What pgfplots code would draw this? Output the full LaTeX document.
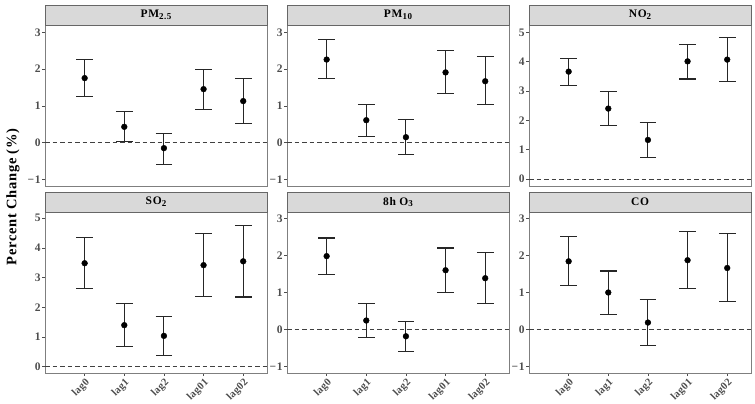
\documentclass[border=0pt]{standalone}
\usepackage{pgfplots}
\pgfplotsset{compat=1.18}
\usepackage{pgfplotstable}
\usepackage{fontspec}
\setmainfont{Liberation Serif}
\newfontfamily\lsfont[LetterSpace=6]{Liberation Serif}
\newfontfamily\xfont[LetterSpace=3]{Liberation Serif}
\newfontfamily\labfont[LetterSpace=5]{Liberation Serif}
\definecolor{tickcol}{HTML}{4D4D4D}
\definecolor{bordercol}{HTML}{7F7F7F}
\definecolor{stripfill}{HTML}{D9D9D9}
\definecolor{stripborder}{HTML}{666666}
\newcommand{\sub}[1]{\raisebox{-0.35ex}{\fontsize{9}{9}\selectfont #1}}

\pgfplotstableread{
x y lo hi
1 1.755 1.245 2.26
2 0.43 0.02 0.84
3 -0.15 -0.59 0.26
4 1.455 0.91 2.00
5 1.13 0.52 1.74
}\tabA
\pgfplotstableread{
x y lo hi
1 2.26 1.735 2.81
2 0.61 0.165 1.035
3 0.147 -0.32 0.627
4 1.91 1.335 2.50
5 1.67 1.03 2.34
}\tabB
\pgfplotstableread{
x y lo hi
1 3.66 3.20 4.10
2 2.40 1.83 2.97
3 1.33 0.74 1.92
4 4.01 3.41 4.60
5 4.07 3.32 4.82
}\tabC
\pgfplotstableread{
x y lo hi
1 3.485 2.63 4.34
2 1.40 0.69 2.12
3 1.04 0.39 1.69
4 3.42 2.38 4.49
5 3.55 2.35 4.75
}\tabD
\pgfplotstableread{
x y lo hi
1 1.98 1.48 2.47
2 0.245 -0.21 0.705
3 -0.18 -0.59 0.22
4 1.60 1.00 2.20
5 1.385 0.70 2.09
}\tabE
\pgfplotstableread{
x y lo hi
1 1.84 1.19 2.52
2 1.00 0.40 1.58
3 0.19 -0.42 0.82
4 1.87 1.10 2.65
5 1.66 0.76 2.58
}\tabF

% #1 x, #2 y, #3 ymin, #4 ymax, #5 yticks, #6 yticklabels, #7 table, #8 title, #9 xtick style
\newcommand{\panel}[9]{%
\begin{axis}[
  at={(#1pt,#2pt)}, anchor=south west,
  scale only axis, width=222pt, height=161pt,
  xmin=0, xmax=5.6, ymin=#3, ymax=#4,
  ytick={#5}, yticklabels={#6},
  #9,
  tick align=outside, tick pos=left, major tick length=3pt,
  axis line style={draw=bordercol, line width=0.7pt},
  every tick/.style={draw=tickcol, line width=0.7pt},
  y tick label style={font=\lsfont\bfseries\fontsize{11.5}{11.5}\selectfont, text=tickcol, inner sep=1.2pt},
  x tick label style={font=\xfont\bfseries\fontsize{10.5}{10.5}\selectfont, text=tickcol, rotate=45, anchor=north east, inner sep=0.8pt},
  clip=false,
]
\draw[black!75, line width=0.7pt, dash pattern=on 4.5pt off 3pt] (axis cs:0,0) -- (axis cs:5.6,0);
\addplot[only marks, mark=*, mark size=2.9pt, black,
  error bars/.cd, y dir=both, y explicit,
  error mark options={rotate=90, mark size=8.3pt, line width=1.1pt, black!85},
  error bar style={line width=1.1pt, black!85}]
  table[x=x, y=y, y error plus expr=\thisrow{hi}-\thisrow{y}, y error minus expr=\thisrow{y}-\thisrow{lo}] {#7};
\end{axis}
\draw[fill=stripfill, draw=stripborder, line width=0.7pt] (#1pt,#2pt+161pt) rectangle (#1pt+222pt,#2pt+181pt);
\node[font=\lsfont\bfseries\fontsize{11.5}{11.5}\selectfont] at (#1pt+111pt,#2pt+171pt) {#8};
}

\begin{document}
\begin{tikzpicture}
\useasboundingbox (0,0) rectangle (755pt,404pt);
\panel{45}{218}{-1.18}{3.2}{-1,0,1,2,3}{−1,0,1,2,3}{\tabA}{PM\sub{2.5}}{xtick=\empty}
\panel{287}{218}{-1.18}{3.2}{-1,0,1,2,3}{−1,0,1,2,3}{\tabB}{PM\sub{10}}{xtick=\empty}
\panel{529}{218}{-0.24}{5.25}{0,1,2,3,4,5}{0,1,2,3,4,5}{\tabC}{NO\sub{2}}{xtick=\empty}
\panel{45}{31}{-0.21}{5.21}{0,1,2,3,4,5}{0,1,2,3,4,5}{\tabD}{SO\sub{2}}{xtick={1,2,3,4,5}, xticklabels={lag0,lag1,lag2,lag01,lag02}}
\panel{287}{31}{-1.17}{3.17}{-1,0,1,2,3}{−1,0,1,2,3}{\tabE}{8h O\sub{3}}{xtick={1,2,3,4,5}, xticklabels={lag0,lag1,lag2,lag01,lag02}}
\panel{529}{31}{-1.17}{3.17}{-1,0,1,2,3}{−1,0,1,2,3}{\tabF}{CO}{xtick={1,2,3,4,5}, xticklabels={lag0,lag1,lag2,lag01,lag02}}
\node[rotate=90, font=\labfont\bfseries\fontsize{14.5}{14.5}\selectfont] at (13pt,207pt) {Percent Change (\%)};
\end{tikzpicture}
\end{document}
